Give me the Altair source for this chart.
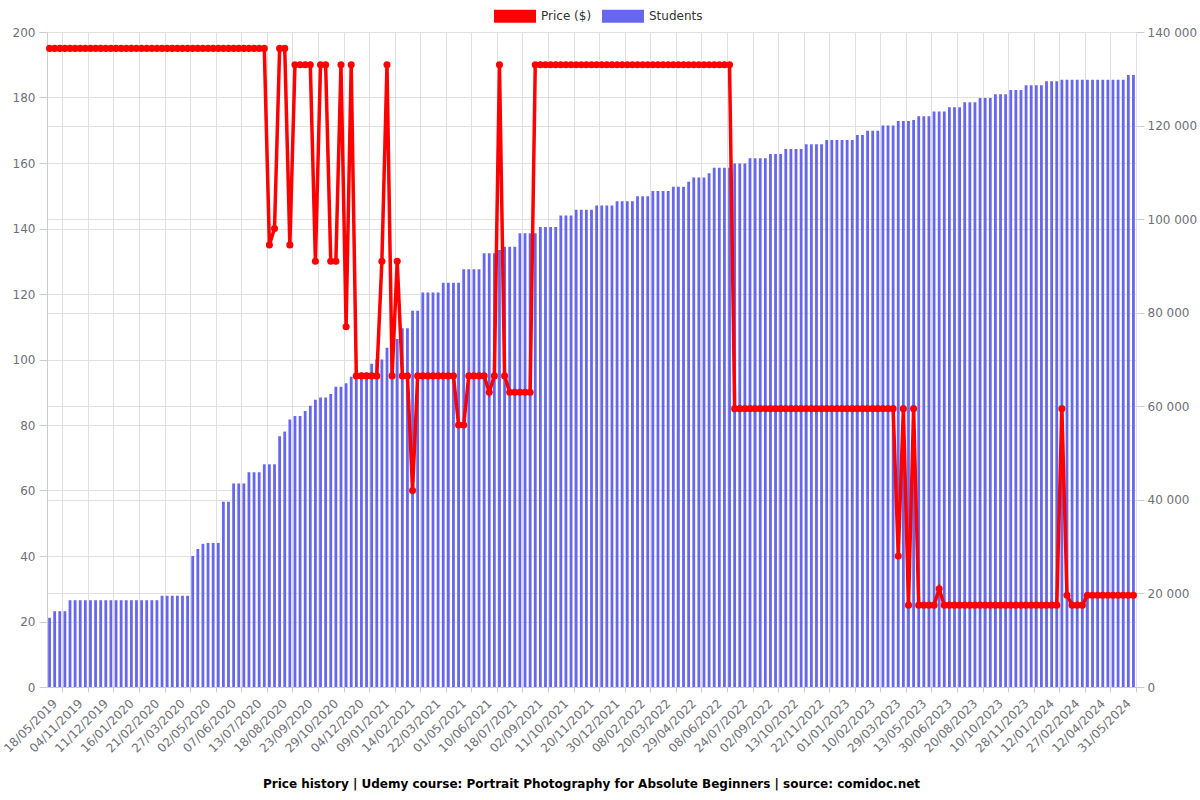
import altair as alt
import pandas as pd

tick_labels = ["18/05/2019", "04/11/2019", "11/12/2019", "16/01/2020", "21/02/2020", "27/03/2020",
               "02/05/2020", "07/06/2020", "13/07/2020", "18/08/2020", "23/09/2020", "29/10/2020",
               "04/12/2020", "09/01/2021", "14/02/2021", "22/03/2021", "01/05/2021", "10/06/2021",
               "18/07/2021", "02/09/2021", "11/10/2021", "20/11/2021", "30/12/2021", "08/02/2022",
               "20/03/2022", "29/04/2022", "08/06/2022", "24/07/2022", "02/09/2022", "13/10/2022",
               "22/11/2022", "01/01/2023", "10/02/2023", "29/03/2023", "13/05/2023", "30/06/2023",
               "20/08/2023", "10/10/2023", "28/11/2023", "12/01/2024", "27/02/2024", "12/04/2024",
               "31/05/2024"]

students = [
    14800, 16200, 16200, 16200,
    18550, 18550, 18550, 18550, 18550, 18550, 18550, 18550, 18550, 18550, 18550, 18550, 18550, 18550,
    18550, 18550, 18550, 18550,
    19500, 19500, 19500, 19500, 19500, 19500,
    28000, 29500, 30600, 30800, 30800, 30800,
    39600, 39600, 43500, 43500, 43500, 45900, 45900, 45900, 47600, 47600, 47600,
    53600, 54600, 57200, 57900, 57900, 59000, 60100, 61400, 61900, 61900, 62600, 64200, 64200, 64900, 66300,
    66600, 67200, 67200, 69100, 70000, 70000, 72500, 72500, 74400, 76700, 76700, 80400, 80400,
    84300, 84300, 84300, 84300, 86400, 86400, 86400, 86400, 89300, 89300, 89300, 89300,
    92700, 92700, 92700, 93400, 94100, 94100, 94100, 97000, 97000, 97000, 97000, 98300, 98300, 98300, 98300,
    100800, 100800, 100800, 102000, 102000, 102000, 102000, 102900, 102900, 102900, 102900,
    103800, 103800, 103800, 103800, 104900, 104900, 104900, 106000, 106000, 106000, 106000,
    106900, 106900, 106900, 108000, 108900, 108900, 108900, 109800, 111000, 111000, 111000, 111000,
    111900, 111900, 111900, 113000, 113000, 113000, 113000, 113900, 113900, 113900,
    115000, 115000, 115000, 115000, 116000, 116000, 116000, 116000,
    116900, 116900, 116900, 116900, 116900, 116900, 118000, 118000, 118900, 118900, 118900,
    120000, 120000, 120000, 121000, 121000, 121000, 121200, 122000, 122000, 122000,
    123000, 123000, 123000, 123900, 123900, 123900, 125000, 125000, 125000, 125900, 125900, 125900,
    126700, 126700, 126700, 127600, 127600, 127600, 128600, 128600, 128600, 128600,
    129500, 129500, 129500,
    129800, 129800, 129800, 129800, 129800, 129800, 129800, 129800, 129800, 129800, 129800, 129800, 129800,
    130800, 130800,
]

price = [
    195, 195, 195, 195, 195, 195, 195, 195, 195, 195, 195, 195, 195, 195, 195, 195, 195, 195, 195, 195,
    195, 195, 195, 195, 195, 195, 195, 195, 195, 195, 195, 195, 195, 195, 195, 195, 195, 195, 195, 195,
    195, 195, 195,
    135, 140, 195, 195, 135, 190, 190, 190, 190, 130, 190, 190, 130, 130, 190, 110, 190,
    95, 95, 95, 95, 95, 130, 190, 95, 130, 95, 95, 60,
    95, 95, 95, 95, 95, 95, 95, 95, 80, 80, 95, 95, 95, 95, 90, 95, 190, 95,
    90, 90, 90, 90, 90,
    190, 190, 190, 190, 190, 190, 190, 190, 190, 190, 190, 190, 190, 190, 190, 190, 190, 190, 190, 190,
    190, 190, 190, 190, 190, 190, 190, 190, 190, 190, 190, 190, 190, 190, 190, 190, 190, 190, 190,
    85, 85, 85, 85, 85, 85, 85, 85, 85, 85, 85, 85, 85, 85, 85, 85,
    85, 85, 85, 85, 85, 85, 85, 85, 85, 85, 85, 85, 85, 85, 85, 85,
    40, 85, 25, 85, 25, 25, 25, 25, 30,
    25, 25, 25, 25, 25, 25, 25, 25, 25, 25, 25, 25, 25, 25, 25, 25, 25, 25, 25, 25, 25, 25, 25,
    85, 28, 25, 25, 25,
    28, 28, 28, 28, 28, 28, 28, 28, 28, 28,
]

n = len(students)
df = pd.DataFrame({
    "idx": list(range(n)),
    "students": students,
    "price": price,
    "series": ["Students"] * n,
})

label_idx = [5 * k for k in range(len(tick_labels))]
grid_idx = [5 * k + 2.5 for k in range(len(tick_labels))]
label_arr = "[" + ",".join("'" + s + "'" for s in tick_labels) + "]"
label_expr = label_arr + "[round(datum.value / 5)]"

FONT = "DejaVu Sans"
GRID = "#e0e0e0"
LBL = "#6e7079"

xscale = alt.Scale(domain=[-0.5, n - 0.5], nice=False, zero=False, padding=0)

bars = alt.Chart(df).mark_bar(width=2.8).encode(
    x=alt.X("idx:Q", scale=xscale,
            axis=alt.Axis(orient="bottom", values=grid_idx, labels=False, ticks=True, tickSize=5,
                          tickColor="#cccccc", grid=True, gridColor=GRID, domain=True,
                          domainColor="#cccccc", title=None)),
    y=alt.Y("students:Q", scale=alt.Scale(domain=[0, 140000], nice=False),
            axis=alt.Axis(orient="right", values=list(range(0, 140001, 20000)),
                          labelExpr="replace(format(datum.value, ','), ',', ' ')",
                          title=None, grid=True, gridColor=GRID, ticks=True, tickSize=8,
                          tickColor="#cccccc", domain=False, labelPadding=3,
                          labelColor=LBL, labelFontSize=12, labelFont=FONT)),
    color=alt.Color("series:N",
                    scale=alt.Scale(domain=["Price ($)", "Students"], range=["#ff0000", "#6767ee"]),
                    legend=alt.Legend(title=None, orient="none", direction="horizontal",
                                      legendX=447, legendY=-37,
                                      symbolType="M-1,-0.31L1,-0.31L1,0.31L-1,0.31Z",
                                      symbolSize=1764, symbolStrokeWidth=0, symbolOpacity=1,
                                      labelFontSize=12, labelFont=FONT, labelColor="#333333",
                                      labelOffset=5, columnPadding=10)),
)

x_line = alt.X("idx:Q", scale=xscale,
               axis=alt.Axis(orient="bottom", values=label_idx, labelExpr=label_expr, labelAngle=-45,
                             labelAlign="right", labelBaseline="middle", labelOverlap=False,
                             labelOffset=5,
                             ticks=False, grid=False, domain=False, title=None, labelColor=LBL,
                             labelFontSize=12, labelFont=FONT, labelPadding=14))
y_line = alt.Y("price:Q", scale=alt.Scale(domain=[0, 200], nice=False),
               axis=alt.Axis(orient="left", values=list(range(0, 201, 20)), title=None, grid=True,
                             gridColor=GRID, ticks=True, tickSize=8, tickColor="#cccccc",
                             domain=True, domainColor="#cccccc", labelPadding=4,
                             labelColor=LBL, labelFontSize=12, labelFont=FONT))

line = alt.Chart(df).mark_line(color="#ff0000", strokeWidth=3.5).encode(x=x_line, y=y_line)
points = alt.Chart(df).mark_point(filled=True, size=50, color="#ff0000", opacity=1).encode(x=x_line, y=y_line)

price_layer = alt.layer(line, points)

chart = alt.layer(bars, price_layer).resolve_scale(y="independent").resolve_axis(x="independent").properties(
    width=1089, height=655,
    autosize=alt.AutoSizeParams(type="none"),
    padding={"left": 47, "top": 32, "right": 64, "bottom": 113},
    title=alt.TitleParams(
        "Price history | Udemy course: Portrait Photography for Absolute Beginners | source: comidoc.net",
        orient="bottom", anchor="middle", font=FONT, fontSize=12, fontWeight="bold",
        color="#000000", offset=25),
).configure_view(stroke=None).configure(font=FONT)

chart.save("out.html", embed_options={"renderer": "svg", "actions": False})
